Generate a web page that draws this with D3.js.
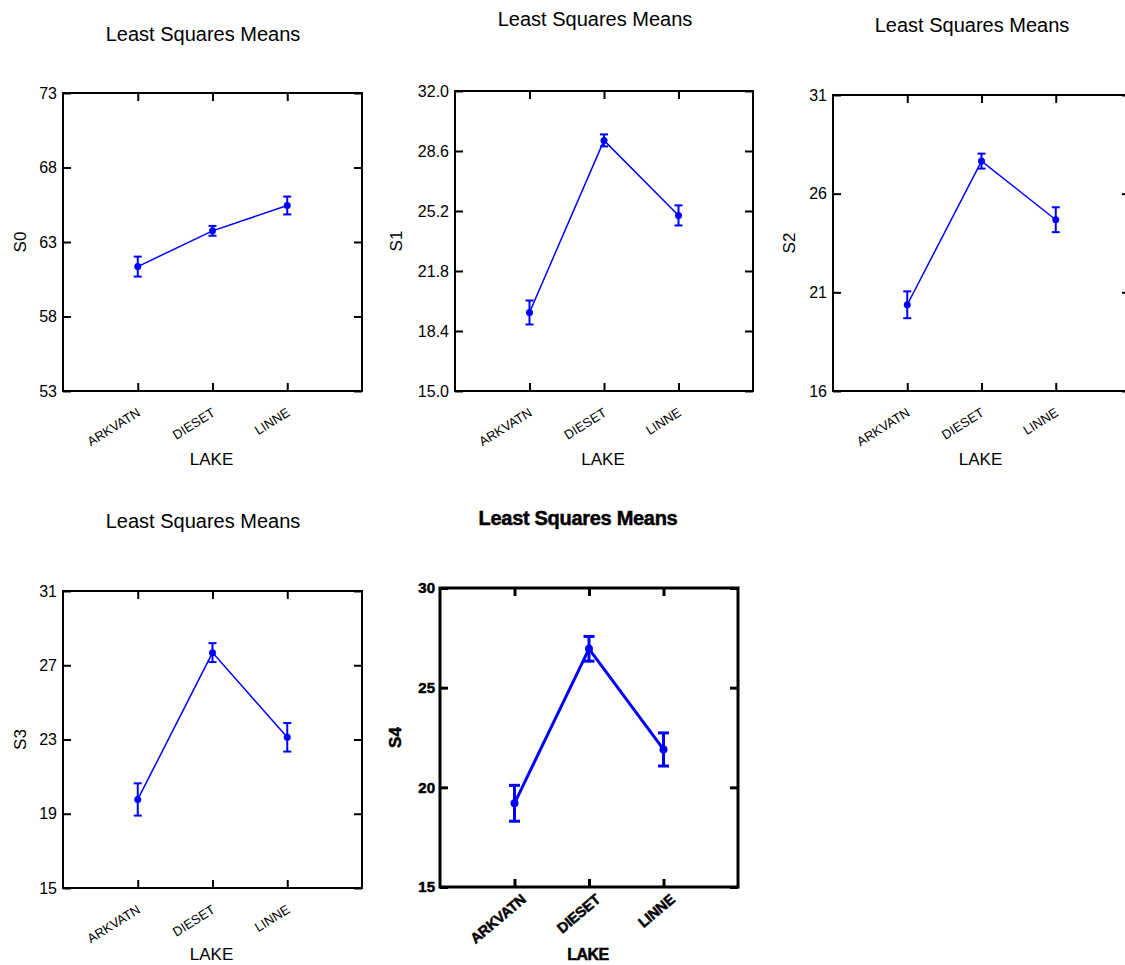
<!DOCTYPE html>
<html>
<head>
<meta charset="utf-8">
<script src="https://cdn.jsdelivr.net/npm/d3@7"></script>
<style>
  html, body { margin: 0; padding: 0; background: #fff; }
  svg { display: block; }
  text { font-family: "Liberation Sans", Arial, sans-serif; fill: #000; }
</style>
</head>
<body>
<svg id="chart" width="1125" height="965"></svg>
<script>
// ---- data ----
const lakes = ["ARKVATN", "DIESET", "LINNE"];
const titleText = "Least Squares Means";
const xLabel = "LAKE";

const s0Means = [61.35, 63.75, 65.45];
const s0Errs  = [0.67, 0.33, 0.60];
const s0Ticks = [53, 58, 63, 68, 73];

const s1Means = [19.45, 29.2, 24.95];
const s1Errs  = [0.68, 0.34, 0.57];
const s1Ticks = [15.0, 18.4, 21.8, 25.2, 28.6, 32.0];

const s2Means = [20.37, 27.65, 24.68];
const s2Errs  = [0.68, 0.38, 0.63];
const s2Ticks = [16, 21, 26, 31];

const s3Means = [19.77, 27.68, 23.12];
const s3Errs  = [0.87, 0.51, 0.77];
const s3Ticks = [15, 19, 23, 27, 31];

const s4Means = [19.2, 26.95, 21.9];
const s4Errs  = [0.90, 0.62, 0.83];
const s4Ticks = [15, 20, 25, 30];

// ---- layout ----
const panels = [
  { name: "S0", means: s0Means, errs: s0Errs, ticks: s0Ticks, fmt: d3.format("d"),
    x0: 63, x1: 362, y0: 93, y1: 391, titleX: 203, titleY: 41, ylabX: 26, labOff: 74, bold: false },
  { name: "S1", means: s1Means, errs: s1Errs, ticks: s1Ticks, fmt: d3.format(".1f"),
    x0: 455, x1: 753, y0: 91, y1: 391, titleX: 595, titleY: 26, ylabX: 402, labOff: 74, bold: false },
  { name: "S2", means: s2Means, errs: s2Errs, ticks: s2Ticks, fmt: d3.format("d"),
    x0: 833, x1: 1130, y0: 95, y1: 391, titleX: 972, titleY: 32, ylabX: 795, labOff: 74, bold: false },
  { name: "S3", means: s3Means, errs: s3Errs, ticks: s3Ticks, fmt: d3.format("d"),
    x0: 63, x1: 362, y0: 591, y1: 888, titleX: 203, titleY: 528, ylabX: 26, labOff: 72, bold: false },
  { name: "S4", means: s4Means, errs: s4Errs, ticks: s4Ticks, fmt: d3.format("d"),
    x0: 440, x1: 738, y0: 588, y1: 887, titleX: 578, titleY: 525, ylabX: 401, labOff: 73, bold: true }
];

const svg = d3.select("#chart");

panels.forEach(p => {
  const g = svg.append("g");
  const bold = p.bold;
  const weight = bold ? "bold" : "normal";
  const frameW = bold ? 3 : 2;
  const lineW = bold ? 3 : 1.5;
  const errW = bold ? 3 : 2;
  const capHalf = bold ? 5.5 : 4;
  const dotR = bold ? 4 : 3.5;
  const blue = "#0000ff";
  const smear = sel => sel
    .style("font-weight", weight)
    .style("stroke", bold ? "#000" : "none")
    .style("stroke-width", bold ? 0.5 : 0);

  const x = d3.scalePoint().domain(lakes).range([p.x0, p.x1]).padding(1);
  const y = d3.scaleLinear().domain(d3.extent(p.ticks)).range([p.y1, p.y0]);

  // title
  g.append("text")
    .attr("x", p.titleX).attr("y", p.titleY)
    .attr("text-anchor", "middle")
    .style("font-size", "20px")
    .style("letter-spacing", bold ? "-0.3px" : "0")
    .call(smear)
    .text(titleText);

  // left axis
  const left = g.append("g").attr("transform", `translate(${p.x0},0)`)
    .call(d3.axisLeft(y).tickValues(p.ticks).tickFormat(p.fmt).tickSizeInner(-8).tickSizeOuter(0).tickPadding(bold ? 5 : 6));
  left.select(".domain").remove();
  left.selectAll(".tick line").attr("stroke", "#000").attr("stroke-width", frameW);
  left.selectAll(".tick text")
    .style("font-size", bold ? "15px" : "16px")
    .style("font-family", '"Liberation Sans", Arial, sans-serif')
    .call(smear)
    .attr("fill", "#000");

  // right axis ticks
  const right = g.append("g").attr("transform", `translate(${p.x1},0)`)
    .call(d3.axisRight(y).tickValues(p.ticks).tickFormat("").tickSizeInner(-8).tickSizeOuter(0));
  right.select(".domain").remove();
  right.selectAll(".tick line").attr("stroke", "#000").attr("stroke-width", frameW);

  // top axis ticks
  const top = g.append("g").attr("transform", `translate(0,${p.y0})`)
    .call(d3.axisTop(x).tickFormat("").tickSizeInner(-8).tickSizeOuter(0));
  top.select(".domain").remove();
  top.selectAll(".tick line").attr("stroke", "#000").attr("stroke-width", frameW);

  // bottom axis
  const bottom = g.append("g").attr("transform", `translate(0,${p.y1})`)
    .call(d3.axisBottom(x).tickSizeInner(-8).tickSizeOuter(0));
  bottom.select(".domain").remove();
  bottom.selectAll(".tick line").attr("stroke", "#000").attr("stroke-width", frameW);
  bottom.selectAll(".tick text")
    .attr("y", 0).attr("dy", 0)
    .attr("text-anchor", "end")
    .attr("transform", bold ? "translate(12,14) rotate(-40)" : "translate(3,24) rotate(-32)")
    .style("font-size", bold ? "14.5px" : "13px")
    .style("font-family", '"Liberation Sans", Arial, sans-serif')
    .style("letter-spacing", bold ? "-0.2px" : "0")
    .call(smear)
    .attr("fill", "#000");

  // frame
  g.append("rect")
    .attr("x", p.x0).attr("y", p.y0)
    .attr("width", p.x1 - p.x0).attr("height", p.y1 - p.y0)
    .attr("fill", "none").attr("stroke", "#000").attr("stroke-width", frameW);

  // x label
  g.append("text")
    .attr("x", (p.x0 + p.x1) / 2 - 1)
    .attr("y", p.y1 + p.labOff)
    .attr("text-anchor", "middle")
    .style("font-size", bold ? "16px" : "17px")
    .style("letter-spacing", bold ? "-0.5px" : "0")
    .call(smear)
    .text(xLabel);

  // y label
  const cy = (p.y0 + p.y1) / 2;
  g.append("text")
    .attr("transform", `translate(${p.ylabX},${cy}) rotate(-90)`)
    .attr("text-anchor", "middle")
    .style("font-size", "17px")
    .call(smear)
    .text(p.name);

  // data
  const rows = lakes.map((k, i) => ({ k, m: p.means[i], e: p.errs[i] }));

  g.append("path")
    .datum(rows)
    .attr("fill", "none")
    .attr("stroke", blue)
    .attr("stroke-width", lineW)
    .attr("d", d3.line().x(d => x(d.k)).y(d => y(d.m)));

  const eb = g.selectAll(".eb").data(rows).enter().append("g");
  eb.append("line")
    .attr("x1", d => x(d.k)).attr("x2", d => x(d.k))
    .attr("y1", d => y(d.m - d.e)).attr("y2", d => y(d.m + d.e))
    .attr("stroke", blue).attr("stroke-width", errW);
  eb.append("line")
    .attr("x1", d => x(d.k) - capHalf).attr("x2", d => x(d.k) + capHalf)
    .attr("y1", d => y(d.m + d.e)).attr("y2", d => y(d.m + d.e))
    .attr("stroke", blue).attr("stroke-width", errW);
  eb.append("line")
    .attr("x1", d => x(d.k) - capHalf).attr("x2", d => x(d.k) + capHalf)
    .attr("y1", d => y(d.m - d.e)).attr("y2", d => y(d.m - d.e))
    .attr("stroke", blue).attr("stroke-width", errW);
  eb.append("circle")
    .attr("cx", d => x(d.k)).attr("cy", d => y(d.m))
    .attr("r", dotR)
    .attr("fill", blue);
});
</script>
</body>
</html>
